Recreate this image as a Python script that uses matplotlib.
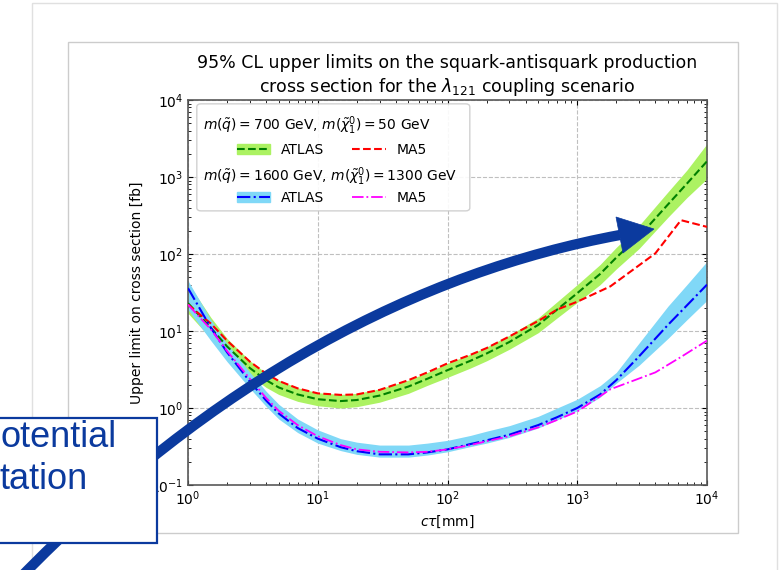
import numpy as np
import matplotlib.pyplot as plt
from matplotlib.lines import Line2D
from matplotlib.patches import Patch, Rectangle, FancyBboxPatch, PathPatch, Polygon
from matplotlib.path import Path

# --- data (ctau in mm, limits in fb) ---
ctau_atlas = [1, 1.5, 2, 3, 4, 5, 7, 10, 15, 20, 30, 50, 70, 100, 150, 200,
              300, 500, 700, 1000, 1500, 2000, 3000, 5000, 7000, 10000]
ctau_ma5 = [1, 1.5, 2, 3, 4, 5, 7, 10, 15, 20, 30, 50, 70, 100, 150, 200,
            300, 500, 700, 1000, 1800, 4000, 6300, 10000]

# m(sq) = 700 GeV, m(chi) = 50 GeV
atlas_700 = [23, 11, 6.3, 3.3, 2.3, 1.85, 1.5, 1.3, 1.23, 1.27, 1.45, 1.9, 2.4,
             3.1, 4.1, 5.1, 7.2, 12, 19, 31, 55, 90, 170, 440, 820, 1600]
atlas_700_up = [42, 15, 8.0, 4.1, 2.85, 2.3, 1.83, 1.58, 1.5, 1.55, 1.77, 2.3, 2.9,
                3.8, 5.0, 6.2, 8.8, 14.8, 24, 40, 73, 122, 235, 640, 1230, 2700]
atlas_700_dn = [17, 8.0, 4.9, 2.65, 1.85, 1.5, 1.22, 1.07, 1.0, 1.04, 1.19, 1.55, 1.97,
                2.5, 3.3, 4.1, 5.8, 9.5, 14.8, 23.5, 40, 64, 118, 300, 540, 950]
ma5_700 = [22, 12.5, 7.5, 4.0, 2.8, 2.25, 1.8, 1.55, 1.48, 1.5, 1.72, 2.3, 2.9,
           3.8, 4.9, 6.0, 8.5, 13.5, 19, 24, 38, 102, 275, 225]

# m(sq) = 1600 GeV, m(chi) = 1300 GeV
atlas_1600 = [36, 11, 5.3, 2.2, 1.25, 0.85, 0.55, 0.4, 0.31, 0.275, 0.25, 0.25, 0.265,
              0.29, 0.34, 0.38, 0.45, 0.6, 0.76, 1.0, 1.5, 2.3, 4.7, 12, 21.5, 40]
atlas_1600_up = [45, 14, 6.8, 2.9, 1.65, 1.12, 0.72, 0.52, 0.4, 0.36, 0.33, 0.33, 0.35,
                 0.38, 0.44, 0.5, 0.59, 0.78, 1.0, 1.3, 1.95, 2.9, 7.0, 21, 40, 80]
atlas_1600_dn = [19, 7.5, 4.0, 1.8, 1.05, 0.72, 0.48, 0.35, 0.28, 0.25, 0.23, 0.23, 0.245,
                 0.27, 0.315, 0.35, 0.415, 0.55, 0.7, 0.92, 1.38, 2.1, 3.6, 8.0, 14, 25]
ma5_1600 = [22, 10.5, 5.5, 2.4, 1.35, 0.92, 0.6, 0.43, 0.33, 0.29, 0.27, 0.265, 0.27,
            0.29, 0.33, 0.37, 0.43, 0.56, 0.7, 0.9, 1.75, 2.9, 4.6, 7.5]

header_700 = r"$m(\tilde{q}) = 700$ GeV, $m(\tilde{\chi}_1^0) = 50$ GeV"
header_1600 = r"$m(\tilde{q}) = 1600$ GeV, $m(\tilde{\chi}_1^0) = 1300$ GeV"

green_band = '#acf262'
blue_band = '#80d8f7'
arrow_col = '#0b3a9e'

fig = plt.figure(figsize=(7.8, 5.7), dpi=100)
ax = fig.add_axes([188 / 780, 85 / 570, 519 / 780, 385 / 570])

ax.fill_between(ctau_atlas, atlas_700_dn, atlas_700_up, color=green_band, lw=0, zorder=2)
ax.fill_between(ctau_atlas, atlas_1600_dn, atlas_1600_up, color=blue_band, lw=0, zorder=2)
ax.plot(ctau_atlas, atlas_700, color='green', ls='--', lw=1.5, zorder=3)
ax.plot(ctau_ma5, ma5_700, color='red', ls='--', lw=1.5, zorder=3)
ax.plot(ctau_atlas, atlas_1600, color='blue', ls='-.', lw=1.5, zorder=3)
ax.plot(ctau_ma5, ma5_1600, color='magenta', ls='-.', lw=1.3, zorder=3)

ax.set_xscale('log')
ax.set_yscale('log')
ax.set_xlim(1, 1e4)
ax.set_ylim(1e-1, 1e4)
ax.grid(True, which='major', ls='--', color='0.75', lw=0.8)
ax.tick_params(which='both', direction='in', top=True, right=True, labelsize=10)
for sp in ax.spines.values():
    sp.set_color('0.35')
    sp.set_linewidth(1.2)
ax.set_xlabel(r'$c\tau$[mm]', fontsize=10)
ax.set_ylabel('Upper limit on cross section [fb]', fontsize=10)
ax.set_title('95% CL upper limits on the squark-antisquark production\n'
             r'cross section for the $\lambda_{121}$ coupling scenario',
             fontsize=12.5, pad=6)

# legend: frame + headers + two rows of entries
frame = FancyBboxPatch((0.017, 0.712), 0.526, 0.278, transform=ax.transAxes,
                       boxstyle='round,pad=0,rounding_size=0.008',
                       facecolor='white', edgecolor='0.8', alpha=0.9, zorder=4)
ax.add_patch(frame)
ax.text(0.029, 0.934, header_700, transform=ax.transAxes, fontsize=10,
        va='center', ha='left', zorder=6)
ax.text(0.029, 0.800, header_1600, transform=ax.transAxes, fontsize=10,
        va='center', ha='left', zorder=6)

h_a700 = (Patch(color=green_band), Line2D([], [], color='green', ls='--', lw=1.5))
h_m700 = Line2D([], [], color='red', ls='--', lw=1.5)
h_a1600 = (Patch(color=blue_band), Line2D([], [], color='blue', ls='-.', lw=1.5))
h_m1600 = Line2D([], [], color='magenta', ls='-.', lw=1.3)

leg1 = ax.legend([h_a700, h_m700], ['ATLAS', 'MA5'], ncol=2, frameon=False,
                 loc='center left', bbox_to_anchor=(0.094, 0.870), fontsize=10,
                 borderpad=0, borderaxespad=0, handlelength=2.4, columnspacing=2.0)
ax.add_artist(leg1)
leg2 = ax.legend([h_a1600, h_m1600], ['ATLAS', 'MA5'], ncol=2, frameon=False,
                 loc='center left', bbox_to_anchor=(0.094, 0.745), fontsize=10,
                 borderpad=0, borderaxespad=0, handlelength=2.4, columnspacing=2.0)

# --- slide decorations in pixel coordinates ---
ov = fig.add_axes([0, 0, 1, 1], zorder=10)
ov.set_xlim(0, 780)
ov.set_ylim(570, 0)
ov.axis('off')
ov.patch.set_alpha(0)

ov.add_patch(Rectangle((32, 3), 745, 620, fill=False, ec='0.88', lw=1))
ov.add_patch(Rectangle((68, 42), 670, 491, fill=False, ec='0.8', lw=1))

arrow_path = Path([(18, 580), (214, 378), (420, 272), (620, 235)],
                  [Path.MOVETO, Path.CURVE4, Path.CURVE4, Path.CURVE4])
ov.add_patch(PathPatch(arrow_path, fill=False, ec=arrow_col, lw=7.4,
                       capstyle='butt', zorder=2))
ov.add_patch(Polygon([(616, 217), (654, 229), (623, 253)], closed=True,
                     fc=arrow_col, ec=arrow_col, lw=0.5, zorder=2))

ov.add_patch(Rectangle((-10, 418), 167, 125, fc='white', ec=arrow_col, lw=1.6, zorder=3))
ov.text(0, 447, 'otential', color=arrow_col, fontsize=26, family='Liberation Sans',
        ha='left', va='baseline', zorder=4)
ov.text(0, 489, 'tation', color=arrow_col, fontsize=26, family='Liberation Sans',
        ha='left', va='baseline', zorder=4)

fig.savefig('out.png', dpi=100)
